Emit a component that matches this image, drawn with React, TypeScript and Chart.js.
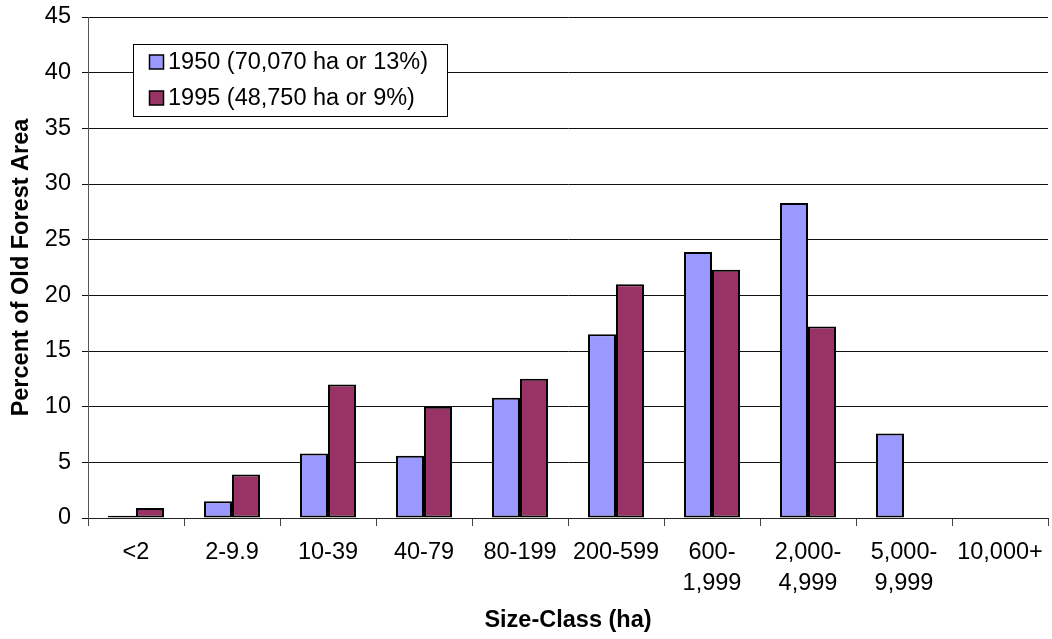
import React, { useEffect, useRef } from "react";
import { Chart, registerables } from "chart.js";

Chart.register(...registerables);

const categories: string[][] = [
  ["<2"],
  ["2-9.9"],
  ["10-39"],
  ["40-79"],
  ["80-199"],
  ["200-599"],
  ["600-", "1,999"],
  ["2,000-", "4,999"],
  ["5,000-", "9,999"],
  ["10,000+"],
];

const series1950: number[] = [0.2, 1.5, 5.8, 5.6, 10.8, 16.5, 23.9, 28.3, 7.6, 0];
const series1995: number[] = [0.9, 3.9, 12.0, 10.0, 12.5, 21.0, 22.3, 17.2, 0, 0];

const seriesLabels: string[] = ["1950 (70,070 ha or 13%)", "1995 (48,750 ha or 9%)"];
const seriesColors: string[] = ["#9999FF", "#993366"];

const yMin = 0;
const yMax = 45;
const yStep = 5;

const yTitle = "Percent of Old Forest Area";
const xTitle = "Size-Class (ha)";

const FONT = '"Liberation Sans", Arial, sans-serif';

const boxLegendPlugin = {
  id: "boxLegend",
  afterDraw(chart: any) {
    const ctx = chart.ctx as CanvasRenderingContext2D;
    const bx = 133.5;
    const by = 44.5;
    const bw = 314;
    const bh = 72;
    ctx.save();
    ctx.fillStyle = "#ffffff";
    ctx.fillRect(bx, by, bw, bh);
    ctx.strokeStyle = "#000000";
    ctx.lineWidth = 1;
    ctx.strokeRect(bx, by, bw, bh);
    const rows = [62, 98];
    chart.data.datasets.forEach((ds: any, i: number) => {
      const cy = rows[i];
      ctx.fillStyle = ds.backgroundColor;
      ctx.fillRect(149.5, cy - 7, 14, 14);
      ctx.strokeStyle = "#000";
      ctx.lineWidth = 1.5;
      ctx.strokeRect(149.5, cy - 7, 14, 14);
      ctx.fillStyle = "#000";
      ctx.font = `23.5px ${FONT}`;
      ctx.textBaseline = "middle";
      ctx.textAlign = "left";
      ctx.fillText(ds.label, 168, cy + 1);
    });
    ctx.restore();
  },
};

export default function App() {
  const canvasRef = useRef<HTMLCanvasElement | null>(null);

  useEffect(() => {
    document.body.style.margin = "0";
    const canvas = canvasRef.current;
    if (!canvas) return;
    Chart.defaults.color = "#000";
    const chart = new Chart(canvas, {
      type: "bar",
      data: {
        labels: categories,
        datasets: [
          {
            label: seriesLabels[0],
            data: series1950,
            backgroundColor: seriesColors[0],
            borderColor: "#000",
            borderWidth: 2,
            borderSkipped: false,
            categoryPercentage: 0.583,
            barPercentage: 1.0,
          },
          {
            label: seriesLabels[1],
            data: series1995,
            backgroundColor: seriesColors[1],
            borderColor: "#000",
            borderWidth: 2,
            borderSkipped: false,
            categoryPercentage: 0.583,
            barPercentage: 1.0,
          },
        ],
      },
      options: {
        responsive: false,
        animation: false,
        devicePixelRatio: 1,
        layout: { padding: { top: 17, right: 4, bottom: 0, left: 0 } },
        plugins: {
          legend: { display: false },
          tooltip: { enabled: false },
        },
        scales: {
          x: {
            grid: {
              display: true,
              drawOnChartArea: false,
              drawTicks: true,
              tickLength: 8,
              color: "#444",
              offset: true,
            },
            border: { display: true, color: "#222", width: 1 },
            ticks: {
              font: { family: FONT, size: 23.5, lineHeight: 1.33 },
              color: "#000",
              padding: 11,
              maxRotation: 0,
              autoSkip: false,
            },
            title: {
              display: true,
              text: xTitle,
              font: { family: FONT, size: 23.5, weight: "bold", lineHeight: 1.2 },
              color: "#000",
              padding: { top: 0, bottom: 4 },
            },
            afterFit: (scale: any) => {
              scale.height = 121;
              scale.paddingLeft = 0;
              scale.paddingRight = 0;
            },
          },
          y: {
            min: yMin,
            max: yMax,
            ticks: {
              stepSize: yStep,
              font: { family: FONT, size: 23.5 },
              color: "#000",
              padding: 11,
            },
            grid: {
              color: "#111",
              lineWidth: 1,
              tickLength: 6,
              drawTicks: true,
            },
            border: { display: true, color: "#555", width: 1 },
            title: {
              display: true,
              text: yTitle,
              font: { family: FONT, size: 23.5, weight: "bold", lineHeight: 1.2 },
              color: "#000",
              padding: { top: 7, bottom: 0 },
            },
            afterFit: (scale: any) => {
              scale.width = 88;
              scale.paddingTop = 0;
              scale.paddingBottom = 0;
            },
          },
        },
      },
      plugins: [boxLegendPlugin],
    });
    return () => chart.destroy();
  }, []);

  return (
    <div style={{ width: 1052, height: 639, background: "#fff" }}>
      <canvas ref={canvasRef} width={1052} height={639} style={{ display: "block" }} />
    </div>
  );
}
